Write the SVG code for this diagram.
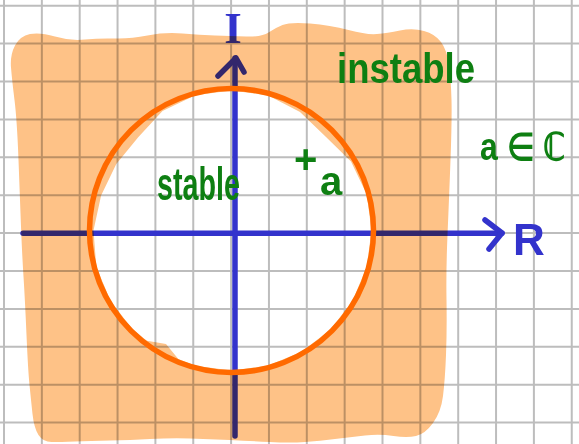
<svg xmlns="http://www.w3.org/2000/svg" width="579" height="444" viewBox="0 0 579 444">
<style>
.grid line{stroke:#bdbdbd;stroke-width:2}
.axis{stroke:#3333cc;stroke-width:5.5;fill:none;stroke-linecap:round;stroke-linejoin:round}
.green{fill:#0e7f12;font-family:"Liberation Sans",Arial,sans-serif;font-weight:bold}
.blue{fill:#3333cc;font-weight:bold}
</style>
<rect width="579" height="444" fill="#ffffff"/>
<g class="grid" id="grid">
<line x1="4" y1="0" x2="4" y2="444"/><line x1="41.85" y1="0" x2="41.85" y2="444"/><line x1="79.7" y1="0" x2="79.7" y2="444"/><line x1="117.55" y1="0" x2="117.55" y2="444"/><line x1="155.4" y1="0" x2="155.4" y2="444"/><line x1="193.25" y1="0" x2="193.25" y2="444"/><line x1="231.1" y1="0" x2="231.1" y2="444"/><line x1="268.95" y1="0" x2="268.95" y2="444"/><line x1="306.8" y1="0" x2="306.8" y2="444"/><line x1="344.65" y1="0" x2="344.65" y2="444"/><line x1="382.5" y1="0" x2="382.5" y2="444"/><line x1="420.35" y1="0" x2="420.35" y2="444"/><line x1="458.2" y1="0" x2="458.2" y2="444"/><line x1="496.05" y1="0" x2="496.05" y2="444"/><line x1="533.9" y1="0" x2="533.9" y2="444"/><line x1="571.75" y1="0" x2="571.75" y2="444"/>
<line x1="0" y1="5.7" x2="579" y2="5.7"/><line x1="0" y1="43.6" x2="579" y2="43.6"/><line x1="0" y1="81.5" x2="579" y2="81.5"/><line x1="0" y1="119.4" x2="579" y2="119.4"/><line x1="0" y1="157.3" x2="579" y2="157.3"/><line x1="0" y1="195.2" x2="579" y2="195.2"/><line x1="0" y1="233.1" x2="579" y2="233.1"/><line x1="0" y1="271" x2="579" y2="271"/><line x1="0" y1="308.9" x2="579" y2="308.9"/><line x1="0" y1="346.8" x2="579" y2="346.8"/><line x1="0" y1="384.7" x2="579" y2="384.7"/><line x1="0" y1="422.6" x2="579" y2="422.6"/>
</g>
<g id="connectors">
<line class="axis" x1="23" y1="233.3" x2="502" y2="233.3"/>
<polyline class="axis" points="485,220 502,233 489,249"/>
<line class="axis" x1="235" y1="436" x2="235" y2="58"/>
<polyline class="axis" points="218,76 236,58 244,72"/>
</g>
<g id="label-I"><text class="blue" x="233" y="43" text-anchor="middle" font-family="Liberation Serif, serif" font-size="45">I</text></g>
<g id="label-R"><text class="blue" x="513" y="255" font-family="Liberation Sans, sans-serif" font-size="44">R</text></g>
<g id="instable-region" style="mix-blend-mode:multiply">
<path fill="#fec287" fill-rule="evenodd" d="M15,45.5 Q20,36 30,34 Q40,32 55,36.5 Q70,41 85,39.5 Q100,38 115,38.5 Q130,39 147.5,35.5 Q165,32 182.5,33.5 Q200,35 215,35.5 Q230,36 246,36.5 Q262,37 268.5,32.5 Q275,28 282.5,25 Q290,22 310,23.5 Q330,25 348.5,30 Q367,35 377,34 Q387,33 400,30.5 Q413,28 424,31 Q435,34 441,42 Q447,50 449,65 Q451,80 451.5,100 Q452,120 450.5,160 Q449,200 447.5,235 Q446,270 446.5,300 Q447,330 446,355 Q445,380 443,396 Q441,412 433,423 Q425,434 416,436 Q407,438 393.5,436 Q380,434 365,435.5 Q350,437 335,439 Q320,441 305,442 Q290,443 270,442 Q250,441 230,440 Q210,439 190,438.5 Q170,438 150,439 Q130,440 110,440.5 Q90,441 75,441.5 Q60,442 51.5,442 Q43,442 38.5,435 Q34,428 32.5,414 Q31,400 29.5,385 Q28,370 26.5,335 Q25,300 23.5,276.5 Q22,253 21,226.5 Q20,200 18.5,160 Q17,120 14.5,100 Q12,80 11,67.5 Q10,55 15,45.5 Z M371.5,230.5 L366.7,194.3 L351,161.5 L325.5,136.5 L300,111.9 L267.7,95.3 L231.5,90.5 L195.3,95.3 L162.5,111 L138.2,137.2 L116.3,164 L101.1,195.6 L93.5,230.5 L96.3,266.7 L110.3,300.5 L132.5,329.5 L146.9,340.8 L166,343.9 L178.3,358.9 L195.3,365.7 L231.5,370.5 L267.7,365.7 L301.5,351.7 L330.5,329.5 L352.7,300.5 L366.7,266.7 Z"/>
</g>
<g id="stable-region"><circle cx="231.5" cy="230.5" r="142" fill="none" stroke="#ff6a00" stroke-width="5.5"/></g>
<g id="label-instable"><text class="green" x="337" y="83" font-size="42" textLength="138" lengthAdjust="spacingAndGlyphs">instable</text></g>
<g id="label-stable"><text class="green" x="157" y="200" font-size="46" textLength="83" lengthAdjust="spacingAndGlyphs">stable</text></g>
<g id="label-a-in-C"><text class="green" transform="translate(480,160) scale(1,1.2)" x="0" y="0" font-size="32" font-family="DejaVu Sans, sans-serif">a ∈ ℂ</text></g>
<g id="point-a"><text class="green" font-size="40" x="294" y="173">+</text><text class="green" font-size="40" x="320" y="195">a</text></g>
</svg>
